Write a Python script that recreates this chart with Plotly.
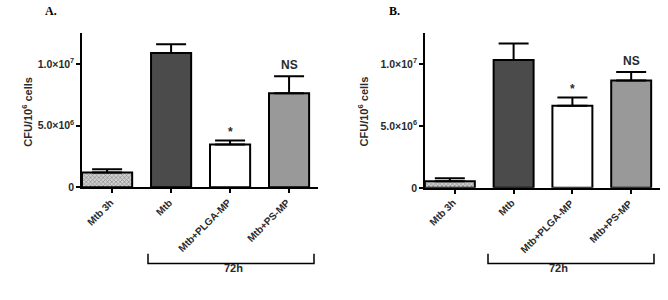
import plotly.graph_objects as go

categories = ["Mtb 3h", "Mtb", "Mtb+PLGA-MP", "Mtb+PS-MP"]
values_a = [1.19e6, 10.9e6, 3.47e6, 7.64e6]
errors_a = [0.26e6, 0.72e6, 0.32e6, 1.38e6]
values_b = [0.53e6, 10.35e6, 6.64e6, 8.68e6]
errors_b = [0.24e6, 1.33e6, 0.66e6, 0.69e6]
sig_a = ["", "", "*", "NS"]
sig_b = ["", "", "*", "NS"]
ytick_vals = [0, 5e6, 1e7]
ytick_text = ["0", "5.0×10<sup>6</sup>", "1.0×10<sup>7</sup>"]
panel_labels = ["A.", "B."]
group_label = "72h"

fill_colors = ["#d0d0d0", "#4b4b4b", "#ffffff", "#999999"]
FONT = "Liberation Sans"
TXT = "#2a2a2a"

fig = go.Figure()

panels = [
    dict(values=values_a, errors=errors_a, sig=sig_a, xd=[0.1228, 0.476], yd=[0.3633, 0.8867], ax="", letter_x=0.076, ytitle_x=0.027, br=[148, 314], lbl_x=233),
    dict(values=values_b, errors=errors_b, sig=sig_b, xd=[0.636, 0.988], yd=[0.361, 0.8867], ax="2", letter_x=0.59, ytitle_x=0.543, br=[488, 654], lbl_x=570),
]

offsets = [-0.51, -0.34, -0.34, -0.34]
widths = [0.85, 0.68, 0.68, 0.68]

for i, p in enumerate(panels):
    ax = p["ax"]
    fig.add_trace(go.Bar(
        x=categories, y=p["values"],
        offset=offsets, width=widths,
        marker=dict(
            color=fill_colors,
            line=dict(color="black", width=2),
            pattern=dict(shape=["x", "", "", ""], fgcolor="#444444", bgcolor="#d8d8d8", size=3, solidity=0.4),
        ),
        error_y=dict(type="data", symmetric=False, array=p["errors"], arrayminus=[0] * 4,
                     color="black", thickness=2, width=15),
        xaxis="x" + ax, yaxis="y" + ax, showlegend=False, hoverinfo="skip",
    ))
    for c, v, e, s in zip(categories, p["values"], p["errors"], p["sig"]):
        if s:
            fig.add_annotation(x=c, y=v + e, text="<b>%s</b>" % s, showarrow=False,
                               yshift=11 if s == "NS" else 9, xref="x" + ax, yref="y" + ax,
                               font=dict(family=FONT, size=12, color=TXT))
    for c in categories:
        fig.add_annotation(x=c, y=0, xref="x" + ax, yref="y" + ax, text="<b>%s</b>" % c,
                           showarrow=False, textangle=-45, xanchor="right", yanchor="top",
                           xshift=6, yshift=-7, font=dict(family=FONT, size=10, color=TXT))
    axis_common = dict(showline=True, linecolor="black", linewidth=1.5, ticks="outside",
                       tickcolor="black", ticklen=4, tickwidth=1.5, showgrid=False, zeroline=False)
    fig.update_layout(**{
        "xaxis" + ax: dict(domain=p["xd"], range=[-0.51, 3.49], anchor="y" + ax, showticklabels=False,
                           **axis_common),
        "yaxis" + ax: dict(domain=p["yd"], range=[0, 1.25e7], anchor="x" + ax,
                           tickvals=ytick_vals, ticktext=ytick_text,
                           tickfont=dict(family=FONT, size=10.5, color=TXT, weight="bold"), **axis_common),
    })
    fig.add_annotation(x=p["letter_x"], y=1.0, xref="paper", yref="paper", xanchor="center", yanchor="top",
                       text="<b>%s</b>" % panel_labels[i], showarrow=False, yshift=-2,
                       font=dict(family="Liberation Serif", size=12, color="black"))
    fig.add_annotation(x=p["ytitle_x"], y=0.62, xref="paper", yref="paper", textangle=-90,
                       text="<b>CFU/10<sup>6</sup> cells</b>", showarrow=False,
                       font=dict(family=FONT, size=11, color=TXT))
    x0, x1 = p["br"]
    fig.add_shape(type="path", xref="paper", yref="paper",
                  path="M %f %f L %f %f L %f %f L %f %f" % (x0 / 668, 1 - 259 / 300, x0 / 668, 1 - 269 / 300,
                                                            x1 / 668, 1 - 269 / 300, x1 / 668, 1 - 259 / 300),
                  line=dict(color="black", width=1.5))
    fig.add_annotation(x=p["lbl_x"] / 668, y=1 - 282 / 300, xref="paper", yref="paper",
                       text="<b>%s</b>" % group_label, showarrow=False,
                       font=dict(family=FONT, size=11, color=TXT))

fig.update_layout(width=668, height=300, margin=dict(l=0, r=0, t=0, b=0),
                  paper_bgcolor="white", plot_bgcolor="white", hovermode=False)

fig.write_html("out.html", config={"displayModeBar": False},
               post_script="document.body.style.margin='0';document.body.style.padding='0';document.body.style.overflow='hidden';")
